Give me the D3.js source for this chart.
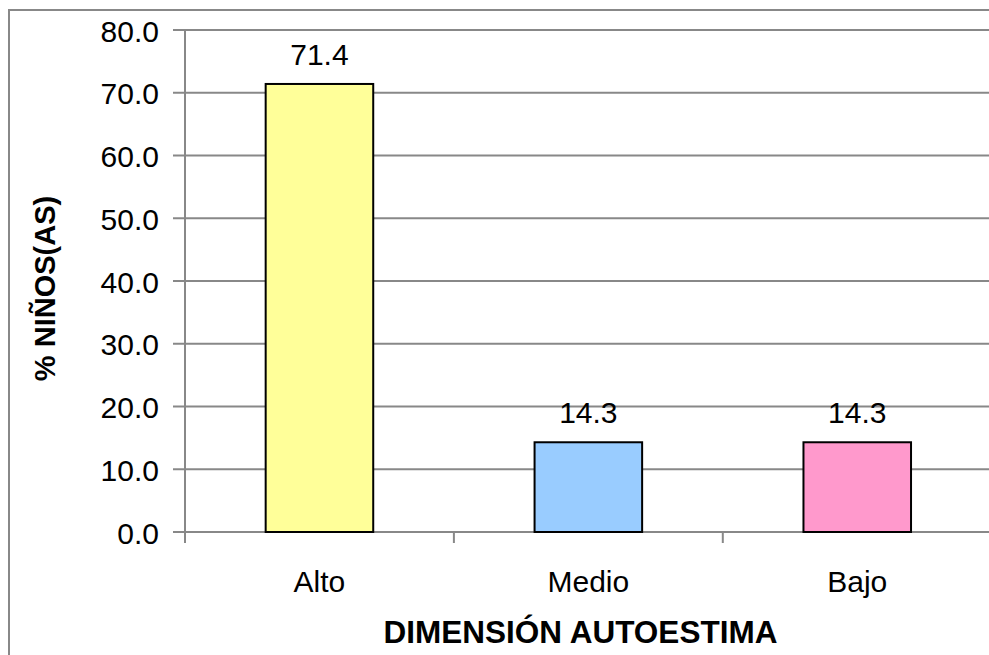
<!DOCTYPE html>
<html><head><meta charset="utf-8">
<script src="https://cdn.jsdelivr.net/npm/d3@7"></script>
<style>body{margin:0;background:#fff}svg{display:block}text{font-family:"Liberation Sans",Arial,sans-serif}</style>
</head><body>
<svg id="c" width="989" height="655"></svg>
<script>
const categories = ["Alto", "Medio", "Bajo"];
const values = [71.4, 14.3, 14.3];
const colors = ["#FFFF99", "#99CCFF", "#FF99CC"];
const yTicks = [0, 10, 20, 30, 40, 50, 60, 70, 80];
const xTitle = "DIMENSIÓN AUTOESTIMA";
const yTitle = "% NIÑOS(AS)";

const svg = d3.select("#c");
const grid = "#888888";
// outer chart border (cropped on right and bottom)
svg.append("rect").attr("x", 9).attr("y", 10).attr("width", 1100).attr("height", 800)
  .attr("fill", "#fff").attr("stroke", grid).attr("stroke-width", 2);

const y = d3.scaleLinear().domain([0, 80]).range([532, 30]);
const x = d3.scaleBand().domain(categories).range([185, 991.7]).paddingInner(0.6).paddingOuter(0.3);
const xEdges = d3.scaleLinear().domain([0, 3]).range([185, 991.7]);

// gridlines
svg.append("g").selectAll("line").data(yTicks).join("line")
  .attr("x1", 173).attr("x2", 1000)
  .attr("y1", d => y(d)).attr("y2", d => y(d))
  .attr("stroke", grid).attr("stroke-width", 2);

// y axis line
svg.append("line").attr("x1", 185).attr("x2", 185).attr("y1", y(80)).attr("y2", 543)
  .attr("stroke", grid).attr("stroke-width", 2);
// category tick marks
svg.append("g").selectAll("line").data([1, 2]).join("line")
  .attr("x1", d => xEdges(d)).attr("x2", d => xEdges(d))
  .attr("y1", y(0)).attr("y2", 543).attr("stroke", grid).attr("stroke-width", 2);

// y tick labels
svg.append("g").selectAll("text").data(yTicks).join("text")
  .attr("x", 159).attr("y", d => y(d) + 11.5)
  .attr("text-anchor", "end").attr("font-size", 30).attr("fill", "#000")
  .text(d => d.toFixed(1));

// bars
svg.append("g").selectAll("rect").data(values).join("rect")
  .attr("x", (d, i) => x(categories[i])).attr("width", x.bandwidth())
  .attr("y", d => y(d)).attr("height", d => y(0) - y(d))
  .attr("fill", (d, i) => colors[i]).attr("stroke", "#000").attr("stroke-width", 2);

// data labels
svg.append("g").selectAll("text").data(values).join("text")
  .attr("x", (d, i) => x(categories[i]) + x.bandwidth() / 2)
  .attr("y", d => y(d) - 19)
  .attr("text-anchor", "middle").attr("font-size", 30).attr("fill", "#000")
  .text(d => d.toFixed(1));

// category labels
svg.append("g").selectAll("text").data(categories).join("text")
  .attr("x", d => x(d) + x.bandwidth() / 2).attr("y", 592)
  .attr("text-anchor", "middle").attr("font-size", 30).attr("fill", "#000")
  .text(d => d);

// axis titles
svg.append("text").attr("x", 580.5).attr("y", 643).attr("text-anchor", "middle")
  .attr("font-size", 31.5).attr("font-weight", "bold").text(xTitle);
svg.append("text").attr("transform", "translate(55,288.5) rotate(-90)")
  .attr("text-anchor", "middle").attr("font-size", 29).attr("font-weight", "bold").text(yTitle);
</script>
</body></html>
